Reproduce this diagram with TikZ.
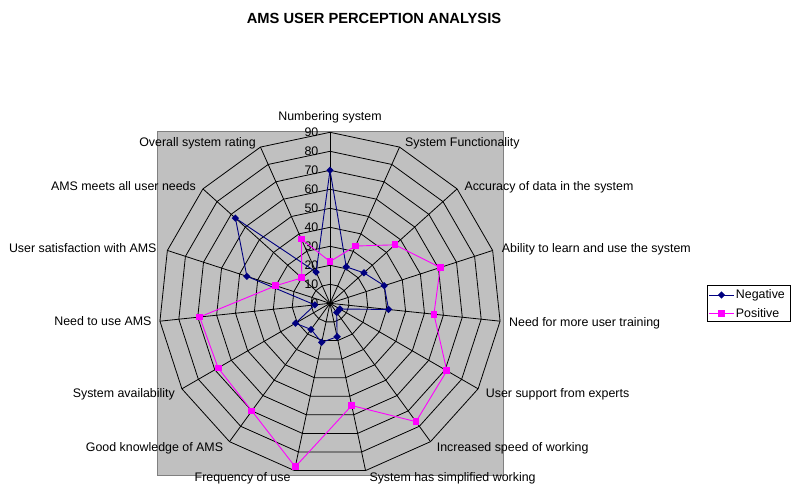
\documentclass[tikz,border=0pt]{standalone}
\usepackage{fontspec}
\setmainfont{Liberation Sans}
\usetikzlibrary{shapes.geometric}
\definecolor{plotgray}{HTML}{C0C0C0}
\definecolor{frame}{HTML}{808080}
\definecolor{negcol}{HTML}{000080}
\definecolor{poscol}{HTML}{FF00FF}
\begin{document}
\begin{tikzpicture}[x=1pt,y=1pt,
  lbl/.style={font=\fontsize{12.4}{14}\selectfont, inner sep=0pt},
  charttitle/.style={font=\fontsize{14.7}{17}\selectfont\bfseries, inner sep=0pt},
  plotarea/.style={fill=plotgray, draw=frame, line width=0.8pt},
  grid/.style={draw=black, line width=0.8pt},
  negline/.style={draw=negcol, line width=0.9pt},
  posline/.style={draw=poscol, line width=0.9pt},
  negmark/.style={diamond, fill=negcol, inner sep=0pt, minimum size=7.5pt},
  posmark/.style={rectangle, fill=poscol, inner sep=0pt, minimum size=6.8pt},
  legendbox/.style={draw=black, fill=white, line width=0.6pt}]
\useasboundingbox (0,0) rectangle (791,-483);
\fill[white] (0,0) rectangle (791,-483);

% title
\node[charttitle, anchor=base] (title) at (374,-23.3) {AMS USER PERCEPTION ANALYSIS};

% plot area
\draw[plotarea] (157.3,-131.5) rectangle (503.3,-475);

\begin{scope}[shift={(330,-303.3)}]
  \coordinate (O) at (0,0);
  % spokes (15 categories, 24 degrees apart, 1.9pt per unit)
  \foreach \k in {0,...,14} {
    \coordinate (v\k) at (90-24*\k:171);
    \draw[grid] (O) -- (v\k);
  }
  % rings 10..90
  \foreach \r in {19,38,...,171} {
    \draw[grid] (90:\r) \foreach \k in {1,...,14} { -- (90-24*\k:\r) } -- cycle;
  }
  % axis values
  \foreach \v in {0,10,...,90} {
    \node[lbl, anchor=east] (t\v) at (-11.5,\v*1.9) {\v};
  }
  % data points
  \foreach \v [count=\k from 0] in {70,21,24,30,31,6,6,18,21,17,21,8,46,67,18} {
    \coordinate (n\k) at (90-24*\k:\v*1.9);
  }
  \foreach \v [count=\k from 0] in {22,33,46,61,55,71,77,55,88,70,68,69,30,20,37} {
    \coordinate (p\k) at (90-24*\k:\v*1.9);
  }
  \draw[negline] (n0) \foreach \k in {1,...,14} { -- (n\k) } -- cycle;
  \draw[posline] (p0) \foreach \k in {1,...,14} { -- (p\k) } -- cycle;
  \foreach \k in {0,...,14} {
    \node[negmark] (nm\k) at (n\k) {};
    \node[posmark] (pm\k) at (p\k) {};
  }
\end{scope}

% category labels
\node[lbl, anchor=base] (l0) at (330,-120.2) {Numbering system};
\node[lbl, anchor=base west] (l1) at (405,-146.2) {System Functionality};
\node[lbl, anchor=base west] (l2) at (464.3,-190.5) {Accuracy of data in the system};
\node[lbl, anchor=base west] (l3) at (501.7,-252.8) {Ability to learn and use the system};
\node[lbl, anchor=base west] (l4) at (509,-326.2) {Need for more user training};
\node[lbl, anchor=base west] (l5) at (485.7,-397.2) {User support from experts};
\node[lbl, anchor=base west] (l6) at (436.7,-451.2) {Increased speed of working};
\node[lbl, anchor=base west] (l7) at (369.3,-481.2) {System has simplified working};
\node[lbl, anchor=base east] (l8) at (290.7,-481.2) {Frequency of use};
\node[lbl, anchor=base east] (l9) at (223.3,-451.2) {Good knowledge of AMS};
\node[lbl, anchor=base east] (l10) at (175,-397.2) {System availability};
\node[lbl, anchor=base east] (l11) at (151.7,-325.2) {Need to use AMS};
\node[lbl, anchor=base east] (l12) at (156.7,-252.8) {User satisfaction with AMS};
\node[lbl, anchor=base east] (l13) at (196,-190.5) {AMS meets all user needs};
\node[lbl, anchor=base east] (l14) at (256,-146.2) {Overall system rating};

% legend
\draw[legendbox] (707.7,-285) rectangle (790.5,-321.7);
\coordinate (ln1) at (709,-295);
\coordinate (ln2) at (734,-295);
\coordinate (lp1) at (709,-313.3);
\coordinate (lp2) at (734,-313.3);
\draw[negline] (ln1) -- (ln2);
\node[negmark] (lnm) at (721.5,-295) {};
\draw[posline] (lp1) -- (lp2);
\node[posmark] (lpm) at (721.5,-313.3) {};
\node[lbl, anchor=west] (lneg) at (735.7,-295) {Negative};
\node[lbl, anchor=west] (lpos) at (735.7,-313.3) {Positive};
\end{tikzpicture}
\end{document}
